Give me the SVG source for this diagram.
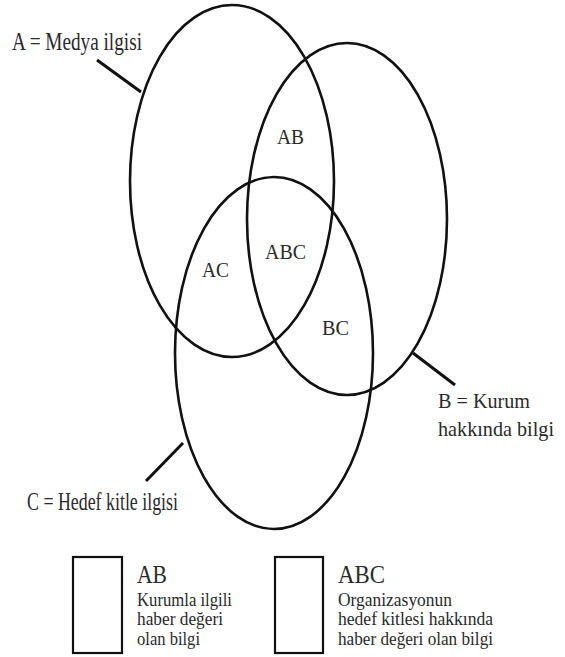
<svg xmlns="http://www.w3.org/2000/svg" width="565" height="657" viewBox="0 0 565 657">
<style>
.ell{fill:none;stroke:#111;stroke-width:2.6}
.lead{stroke:#111;stroke-width:3;stroke-linecap:butt}
.box{fill:#fff;stroke:#111;stroke-width:2.2}
.t{font-family:"Liberation Serif","DejaVu Serif","Times New Roman",serif;fill:#2a2a2a}
.lbl{font-size:26px}
.lblb{font-size:21px}
.in{font-size:22px}
.hd{font-size:26px}
.sm{font-size:18px}
</style>
<rect width="565" height="657" fill="#fff"/>
<g id="sets">
<g id="setA"><ellipse class="ell" cx="232" cy="181" rx="102" ry="176"/></g>
<g id="setB"><ellipse class="ell" cx="347" cy="219" rx="100" ry="176"/></g>
<g id="setC"><ellipse class="ell" cx="274" cy="353" rx="99" ry="176"/></g>
</g>
<g id="connectors">
<line class="lead" x1="97" y1="60" x2="141" y2="92"/>
<line class="lead" x1="413" y1="353" x2="455" y2="385"/>
<line class="lead" x1="183" y1="443" x2="146" y2="481"/>
</g>
<g class="t" font-family="Liberation Serif, DejaVu Serif, serif">
<g id="labelA"><text class="lbl" x="12" y="50" textLength="130" lengthAdjust="spacingAndGlyphs">A = Medya ilgisi</text></g>
<g id="labelB"><text class="lblb" x="438" y="408" textLength="92" lengthAdjust="spacingAndGlyphs">B = Kurum</text>
<text class="lblb" x="438" y="436" textLength="116" lengthAdjust="spacingAndGlyphs">hakkında bilgi</text></g>
<g id="labelC"><text class="lbl" x="27" y="510" textLength="151" lengthAdjust="spacingAndGlyphs">C = Hedef kitle ilgisi</text></g>
<g id="regions">
<text class="in" x="277" y="144" textLength="27" lengthAdjust="spacingAndGlyphs">AB</text>
<text class="in" x="265" y="259" textLength="41" lengthAdjust="spacingAndGlyphs">ABC</text>
<text class="in" x="202" y="277" textLength="27" lengthAdjust="spacingAndGlyphs">AC</text>
<text class="in" x="322" y="335" textLength="27" lengthAdjust="spacingAndGlyphs">BC</text>
</g>
<g id="legendAB">
<rect class="box" x="73" y="557" width="49" height="96"/>
<text class="hd" x="137" y="583" textLength="30" lengthAdjust="spacingAndGlyphs">AB</text>
<text class="sm" x="137" y="606" textLength="95" lengthAdjust="spacingAndGlyphs">Kurumla ilgili</text>
<text class="sm" x="137" y="625" textLength="86" lengthAdjust="spacingAndGlyphs">haber değeri</text>
<text class="sm" x="137" y="645" textLength="63" lengthAdjust="spacingAndGlyphs">olan bilgi</text>
</g>
<g id="legendABC">
<rect class="box" x="275" y="557" width="48" height="96"/>
<text class="hd" x="338" y="583" textLength="47" lengthAdjust="spacingAndGlyphs">ABC</text>
<text class="sm" x="338" y="606" textLength="114" lengthAdjust="spacingAndGlyphs">Organizasyonun</text>
<text class="sm" x="338" y="625" textLength="155" lengthAdjust="spacingAndGlyphs">hedef kitlesi hakkında</text>
<text class="sm" x="338" y="645" textLength="155" lengthAdjust="spacingAndGlyphs">haber değeri olan bilgi</text>
</g>
</g>
</svg>
